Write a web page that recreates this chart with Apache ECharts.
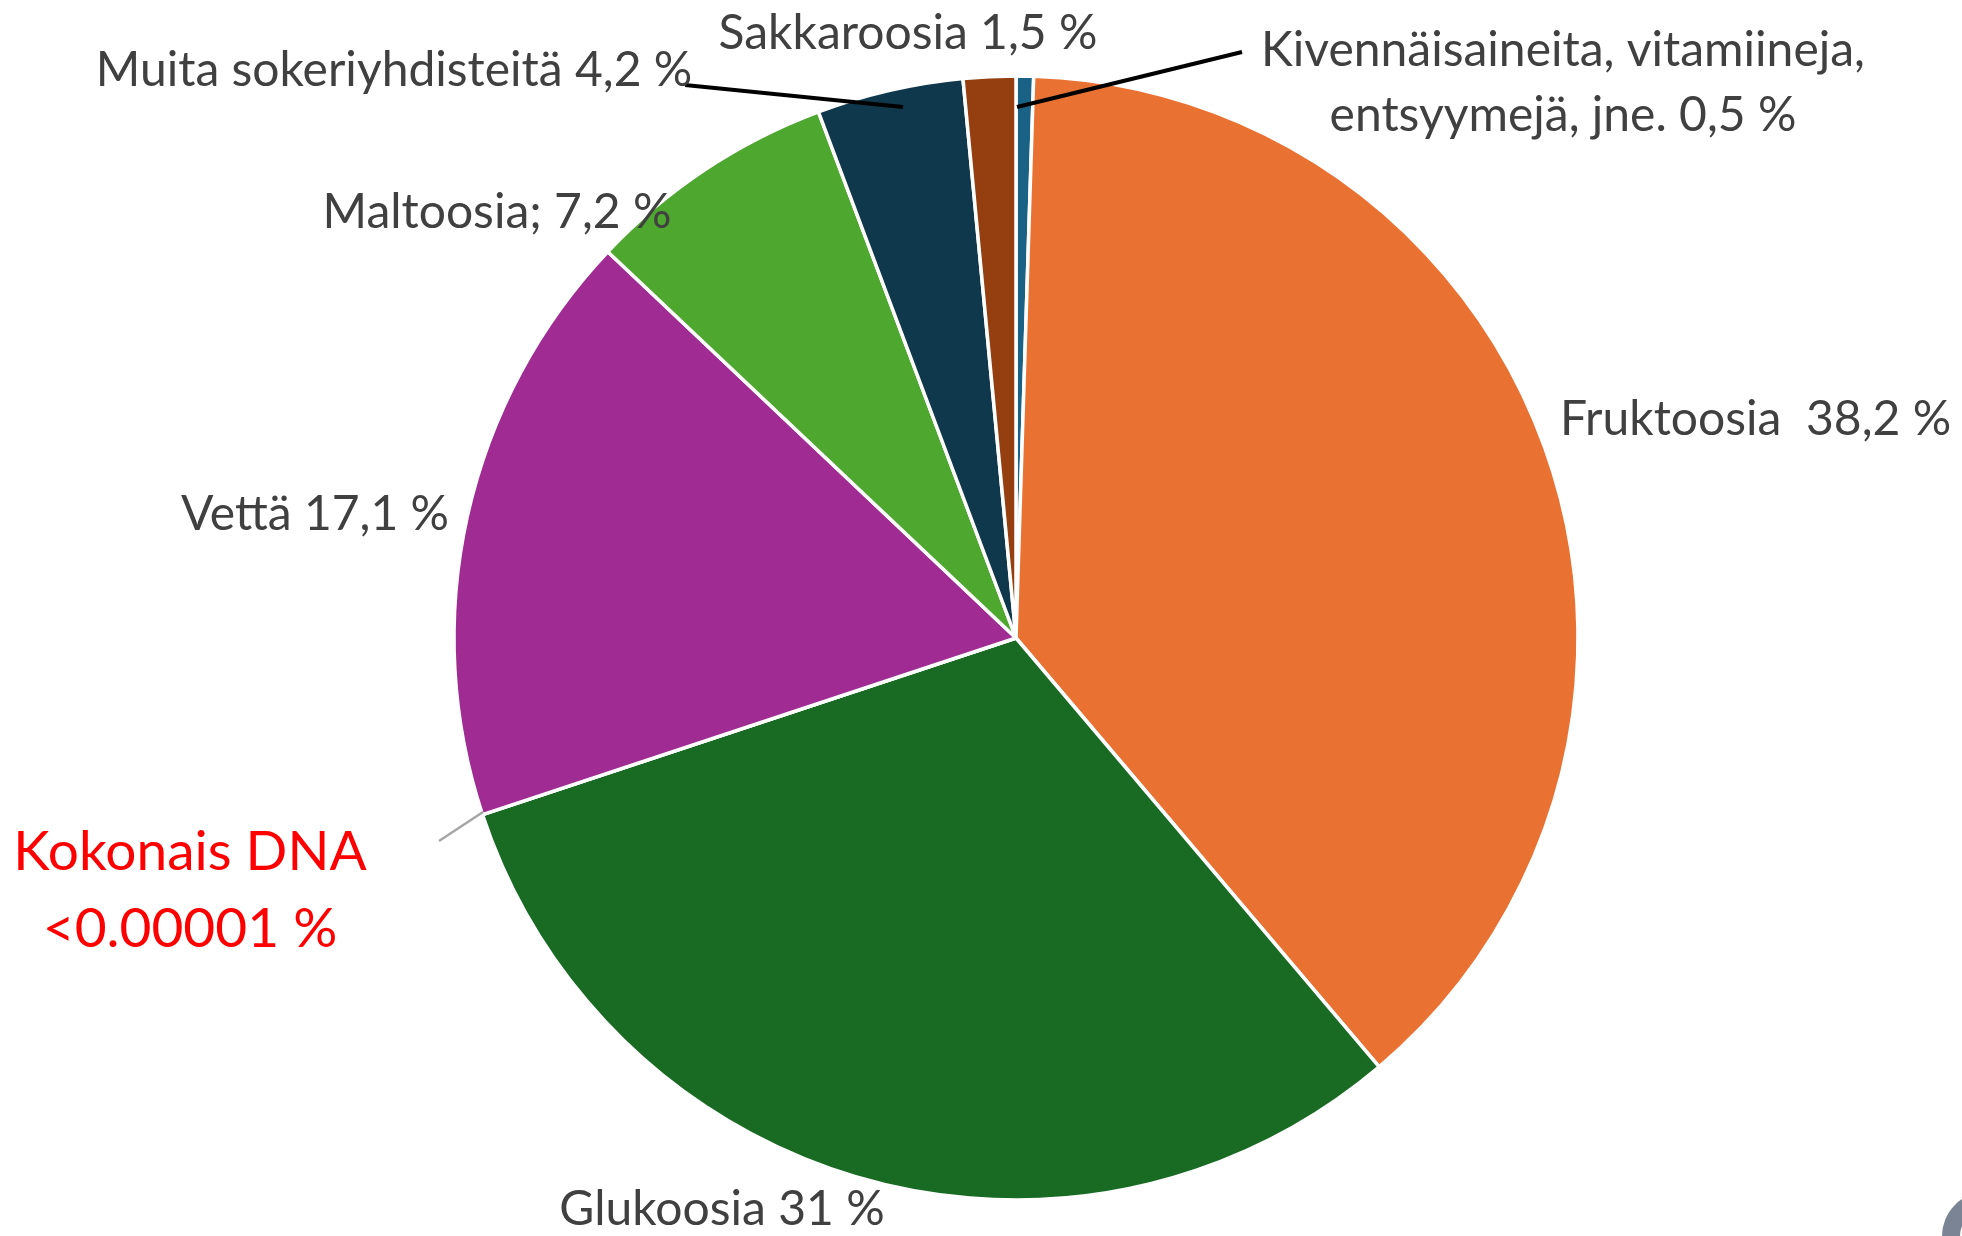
<!DOCTYPE html>
<html>
<head>
<meta charset="utf-8">
<script src="https://cdn.jsdelivr.net/npm/echarts@6/dist/echarts.min.js"></script>
<style>
  html, body { margin: 0; padding: 0; background: #fff; }
  #chart { width: 1962px; height: 1236px; }
</style>
</head>
<body>
<div id="chart"></div>
<script>
// slices clockwise from 12 o'clock
const names = ['Kivennäisaineita', 'Fruktoosia', 'Glukoosia', 'Kokonais DNA', 'Vettä', 'Maltoosia', 'Muita sokeriyhdisteitä', 'Sakkaroosia']
const values = [0.5, 38.2, 31, 0.00001, 17.1, 7.2, 4.2, 1.5]
const labelTexts = [
  'Kivennäisaineita, vitamiineja,\nentsyymejä, jne. 0,5 %',
  'Fruktoosia  38,2 %',
  'Glukoosia 31 %',
  'Kokonais DNA\n<0.00001 %',
  'Vettä 17,1 %',
  'Maltoosia; 7,2 %',
  'Muita sokeriyhdisteitä 4,2 %',
  'Sakkaroosia 1,5 %'
]
const colors = ['#1A6285', '#E97132', '#196B24', '#FF0000', '#A02B93', '#4EA72E', '#0F384D', '#953F10']

// where the texts sit (x, middle y) and the leader lines
const labelPos = [
  { x: 1563, y: 83, align: 'center', line: [[1017, 107], [1242, 52]] },
  { x: 1560, y: 420, align: 'left' },
  { x: 722, y: 1210, align: 'center' },
  { x: 190, y: 891, align: 'center', line: [[483, 812], [439, 841]] },
  { x: 315, y: 515, align: 'center' },
  { x: 497, y: 213, align: 'center' },
  { x: 394, y: 71, align: 'center', line: [[903, 107], [685, 85]] },
  { x: 908, y: 34, align: 'center' }
]

const chart = echarts.init(document.getElementById('chart'))

const pieBase = {
  type: 'pie',
  center: [1016, 638],
  radius: [0, 562],
  startAngle: 90,
  clockwise: true
}

// second, see-through copy of the pie carries the texts so the leader lines sit on top of the slices
const labelData = names.map((n, i) => {
  const item = { name: n, value: values[i] }
  if (i === 3) {
    item.label = { color: '#FF0000', fontSize: 55, lineHeight: 77 }
    item.labelLine = { show: true, lineStyle: { color: '#A6A6A6', width: 2.5 } }
  } else if (labelPos[i].line) {
    item.labelLine = { show: true, lineStyle: { color: '#000000', width: 4 } }
  }
  return item
})

chart.setOption({
  animation: false,
  backgroundColor: '#ffffff',
  series: [
    Object.assign({}, pieBase, {
      z: 2,
      data: names.map((n, i) => ({ name: n, value: values[i], itemStyle: { color: colors[i] } })),
      itemStyle: { borderColor: '#ffffff', borderWidth: 3.5 },
      label: { show: false },
      labelLine: { show: false }
    }),
    Object.assign({}, pieBase, {
      z: 5,
      silent: true,
      data: labelData,
      itemStyle: { color: 'rgba(0,0,0,0)', borderWidth: 0 },
      label: {
        show: true,
        position: 'outside',
        overflow: 'none',
        formatter: (p) => labelTexts[p.dataIndex],
        fontFamily: 'Lato, "Open Sans", sans-serif',
        fontSize: 48,
        lineHeight: 65,
        color: '#404040'
      },
      labelLine: { show: false },
      labelLayout: (p) => {
        const lp = labelPos[p.dataIndex]
        const out = { x: lp.x, y: lp.y, align: lp.align, verticalAlign: 'middle' }
        if (lp.line) out.labelLinePoints = lp.line
        return out
      }
    })
  ],
  graphic: [{
    type: 'ring',
    shape: { cx: 1986, cy: 1236, r: 44, r0: 26 },
    style: { fill: '#7B8494' }
  }]
})
</script>
</body>
</html>
